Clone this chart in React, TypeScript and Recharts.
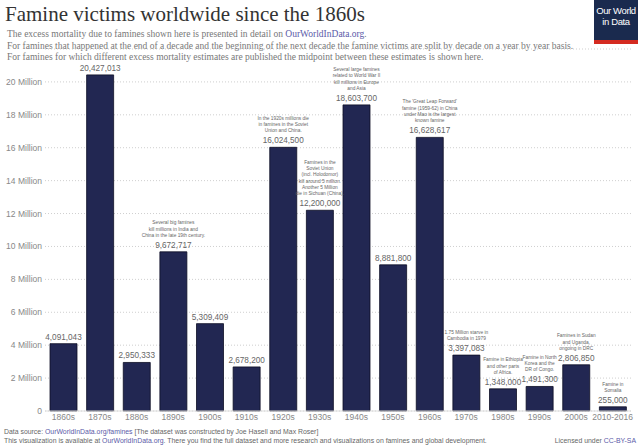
import React from 'react'
import { BarChart, Bar, XAxis, YAxis, CartesianGrid } from 'recharts'

const decades = ['1860s', '1870s', '1880s', '1890s', '1900s', '1910s', '1920s', '1930s', '1940s', '1950s', '1960s', '1970s', '1980s', '1990s', '2000s', '2010-2016']
const victims = [4091043, 20427013, 2950333, 9672717, 5309409, 2678200, 16024500, 12200000, 18603700, 8881800, 16628617, 3397083, 1348000, 1491300, 2806850, 255000]
const notes = [
  '',
  '',
  '',
  'Several big famines\nkill millions in India and\nChina in the late 19th century.',
  '',
  '',
  'In the 1920s millions die\nin famines in the Soviet\nUnion and China.',
  'Famines in the\nSoviet Union\n(incl. Holodomor)\nkill around 5 million.\nAnother 5 Million\ndie in Sichuan (China).',
  'Several large famines\nrelated to World War II\nkill millions in Europe\nand Asia',
  '',
  "The 'Great Leap Forward'\nfamine (1959-62) in China\nunder Mao is the largest\nknown famine",
  '1.75 Million starve in\nCambodia in 1979',
  'Famine in Ethiopia\nand other parts\nof Africa.',
  'Famine in North\nKorea and the\nDR of Congo.',
  'Famines in Sudan\nand Uganda,\nongoing in DRC',
  'Famine in\nSomalia',
]
const yTicks = [0, 2e6, 4e6, 6e6, 8e6, 10e6, 12e6, 14e6, 16e6, 18e6, 20e6]

const data = decades.map((decade, i) => ({ decade, victims: victims[i], note: notes[i] }))

const sans = '"Liberation Sans", Arial, sans-serif'
const serif = '"Liberation Serif", "Times New Roman", serif'
const link = '#5a5aa8'

const renderBarLabel = ({ x, y, width, value, index }: any) => {
  const cx = x + width / 2
  const lines = notes[index] ? notes[index].split('\n') : []
  const valueY = y - 4
  const lastNoteY = valueY - 11
  return (
    <g>
      <text x={cx} y={valueY} fill="#666" fontSize={8.2} fontFamily={sans} textAnchor="middle">
        {Number(value).toLocaleString('en-US')}
      </text>
      {lines.map((line: string, i: number) => (
        <text key={i} x={cx} y={lastNoteY - (lines.length - 1 - i) * 6.3} fill="#666" fontSize={4.8} fontFamily={sans} textAnchor="middle">
          {line}
        </text>
      ))}
    </g>
  )
}

const YTick = ({ x, y, payload }: any) => (
  <text x={x} y={y} dy={3} fill="#888" fontSize={8.5} fontFamily={sans} textAnchor="end">
    {payload.value === 0 ? '0' : `${payload.value / 1e6} Million`}
  </text>
)

const App: React.FC = () => {
  return (
    <div style={{ position: 'absolute', left: 0, top: 0, width: 640, height: 448, background: '#fff', overflow: 'hidden' }}>
      <div style={{ position: 'absolute', left: 5, top: 2, fontFamily: serif, fontSize: 21, color: '#333', whiteSpace: 'nowrap' }}>
        Famine victims worldwide since the 1860s
      </div>
      <div style={{ position: 'absolute', left: 7, top: 29, fontFamily: serif, fontSize: 9.5, lineHeight: '11.5px', color: '#777', whiteSpace: 'nowrap' }}>
        <div>The excess mortality due to famines shown here is presented in detail on <span style={{ color: link }}>OurWorldInData.org</span>.</div>
        <div>For famines that happened at the end of a decade and the beginning of the next decade the famine victims are split by decade on a year by year basis.</div>
        <div>For famines for which different excess mortality estimates are published the midpoint between these estimates is shown here.</div>
      </div>
      <div style={{ position: 'absolute', left: 594, top: 0, width: 44, height: 34, background: '#1a2a4e', borderBottom: '4px solid #d42b21', color: '#fff', fontFamily: sans, fontSize: 9.5, lineHeight: '10.5px', textAlign: 'center', paddingTop: 6, boxSizing: 'content-box', letterSpacing: -0.4 }}>
        <div>Our World</div>
        <div>in Data</div>
      </div>
      <BarChart width={640} height={448} data={data} margin={{ top: 49, right: 9, left: 0, bottom: 17 }} barSize={27}>
        <CartesianGrid vertical={false} stroke="#cfcfcf" strokeDasharray="1 2" />
        <XAxis
          dataKey="decade"
          height={20}
          tickSize={2}
          tickMargin={1}
          tickLine={false}
          axisLine={{ stroke: '#ddd' }}
          interval={0}
          tick={{ fill: '#888', fontSize: 8.5, fontFamily: sans }}
        />
        <YAxis
          width={45}
          domain={[0, 22e6]}
          ticks={yTicks}
          tickSize={3}
          tickMargin={0}
          tickLine={false}
          axisLine={false}
          interval={0}
          tick={<YTick />}
        />
        <Bar dataKey="victims" fill="#222752" stroke="#0c0e24" strokeWidth={0.8} isAnimationActive={false} label={renderBarLabel} />
      </BarChart>
      <div style={{ position: 'absolute', left: 4, top: 427, fontFamily: sans, fontSize: 6.9, lineHeight: '9px', color: '#666', whiteSpace: 'nowrap' }}>
        <div>Data source: <span style={{ color: link }}>OurWorldInData.org/famines</span> [The dataset was constructed by Joe Hasell and Max Roser]</div>
        <div>This visualization is available at <span style={{ color: link }}>OurWorldInData.org</span>. There you find the full dataset and more research and visualizations on famines and global development.</div>
      </div>
      <div style={{ position: 'absolute', right: 4, top: 436, fontFamily: sans, fontSize: 6.9, lineHeight: '9px', color: '#666', whiteSpace: 'nowrap' }}>
        Licensed under <span style={{ color: link }}>CC-BY-SA</span>
      </div>
    </div>
  )
}

export default App
